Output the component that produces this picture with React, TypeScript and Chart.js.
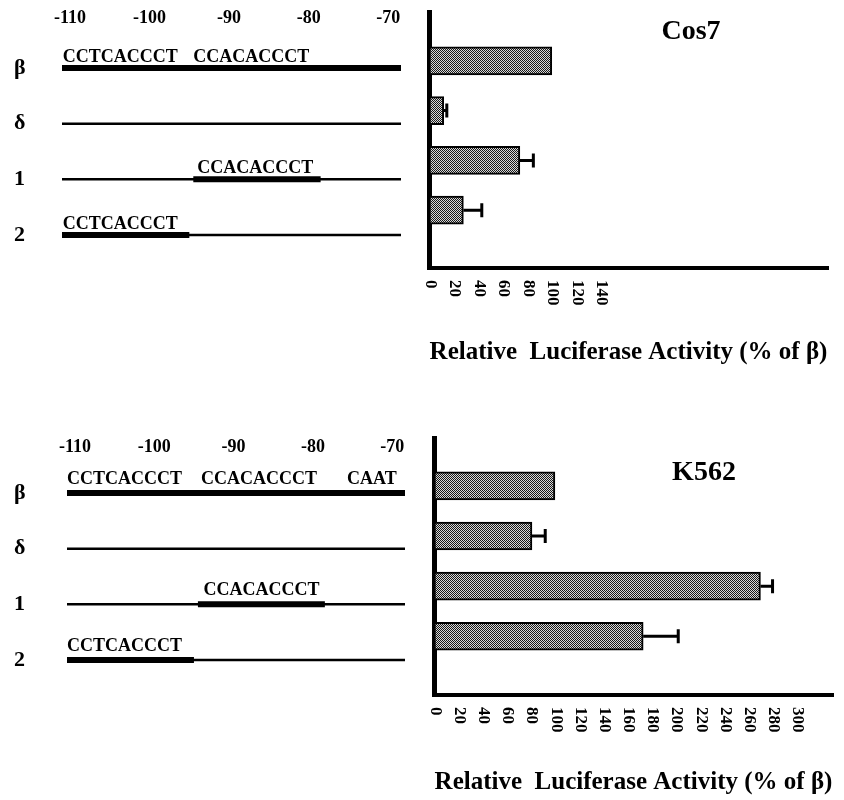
import React, { useEffect, useRef } from "react";
import { Chart, registerables } from "chart.js";

Chart.register(...registerables);

const SERIF = '"Liberation Serif", "Times New Roman", serif';

// Constructs, one row each, top to bottom
const constructs = ["β", "δ", "1", "2"];

// Promoter coordinates labelled above the maps
const coordinateTicks = [-110, -100, -90, -80, -70];
// Extent of the promoter fragment in every construct
const fragmentStart = -111;
const fragmentEnd = -68.4;

// Wild-type (thick) stretch kept in each construct; null = none
const keptStart: (number | null)[] = [-111, null, -94.5, -111];
const keptEnd: (number | null)[] = [-68.4, null, -78.5, -95];

// Sequence elements written over the maps (left end, row)
const cos7MotifNames = ["CCTCACCCT", "CCACACCCT", "CCACACCCT", "CCTCACCCT"];
const cos7MotifStarts = [-110.9, -94.5, -94, -110.9];
const cos7MotifRows = [0, 0, 2, 3];

const k562MotifNames = ["CCTCACCCT", "CCACACCCT", "CAAT", "CCACACCCT", "CCTCACCCT"];
const k562MotifStarts = [-111, -94.1, -75.7, -93.8, -111];
const k562MotifRows = [0, 0, 0, 2, 3];

// Relative luciferase activity (% of β) with error
const cos7Activity = [100, 12, 74, 28];
const cos7Error = [0, 2.5, 11, 15];
const cos7Ticks = [0, 20, 40, 60, 80, 100, 120, 140];

const k562Activity = [100, 81, 270, 173];
const k562Error = [0, 11, 10, 29];
const k562Ticks = [0, 20, 40, 60, 80, 100, 120, 140, 160, 180, 200, 220, 240, 260, 280, 300];

const activityTitle = "Relative  Luciferase Activity (% of β)";

// Coordinate labels printed above the maps
const coordLabels = {
  id: "coordLabels",
  afterDraw(chart: any, _args: any, opts: any) {
    const { ctx } = chart;
    const xs = chart.scales.x;
    ctx.save();
    ctx.fillStyle = "#000";
    ctx.font = `bold ${opts.size}px ${SERIF}`;
    ctx.textAlign = "center";
    ctx.textBaseline = "middle";
    xs.ticks.forEach((t: any) => {
      ctx.fillText(String(t.value), xs.getPixelForValue(t.value), chart.chartArea.top - opts.rise);
    });
    ctx.restore();
  },
};

// Writes the sequence element names just above their row
const motifLabels = {
  id: "motifLabels",
  afterDatasetsDraw(chart: any, _args: any, opts: any) {
    const { ctx } = chart;
    const xs = chart.scales.x;
    const ys = chart.scales.y;
    ctx.save();
    ctx.fillStyle = "#000";
    ctx.font = `bold ${opts.size}px ${SERIF}`;
    ctx.textAlign = "left";
    ctx.textBaseline = "alphabetic";
    opts.names.forEach((name: string, i: number) => {
      const x = xs.getPixelForValue(opts.starts[i]);
      const y = ys.getPixelForValue(opts.rows[i]);
      ctx.fillText(name, x, y - opts.lift);
    });
    ctx.restore();
  },
};

// One-sided error bars with an end cap
const errorBars = {
  id: "errorBars",
  afterDatasetsDraw(chart: any, _args: any, opts: any) {
    const { ctx } = chart;
    const xs = chart.scales.x;
    const ys = chart.scales.y;
    ctx.save();
    ctx.strokeStyle = "#000";
    ctx.lineWidth = 3;
    ctx.lineCap = "butt";
    opts.values.forEach((v: number, i: number) => {
      const e = opts.errors[i];
      if (!e) return;
      const x0 = xs.getPixelForValue(v);
      const x1 = xs.getPixelForValue(v + e);
      const y = ys.getPixelForValue(i);
      ctx.beginPath();
      ctx.moveTo(x0, y);
      ctx.lineTo(x1, y);
      ctx.moveTo(x1, y - 7);
      ctx.lineTo(x1, y + 7);
      ctx.stroke();
    });
    ctx.restore();
  },
};

// Activity tick labels, turned to read downwards
const downTicks = {
  id: "downTicks",
  afterDraw(chart: any, _args: any, opts: any) {
    const { ctx } = chart;
    const xs = chart.scales.x;
    ctx.save();
    ctx.fillStyle = "#000";
    ctx.font = `bold ${opts.size}px ${SERIF}`;
    ctx.textAlign = "left";
    ctx.textBaseline = "middle";
    xs.ticks.forEach((t: any) => {
      ctx.save();
      ctx.translate(xs.getPixelForValue(t.value) + 1, xs.top + opts.gap);
      ctx.rotate(Math.PI / 2);
      ctx.fillText(String(t.value), 0, 0);
      ctx.restore();
    });
    ctx.restore();
  },
};

// Cell line name inside the plot
const panelName = {
  id: "panelName",
  afterDraw(chart: any, _args: any, opts: any) {
    const { ctx } = chart;
    ctx.save();
    ctx.fillStyle = "#000";
    ctx.font = `bold ${opts.size}px ${SERIF}`;
    ctx.textAlign = "center";
    ctx.textBaseline = "middle";
    ctx.fillText(opts.text, opts.x, opts.y);
    ctx.restore();
  },
};

function stipple(): CanvasPattern | string {
  const tile = document.createElement("canvas");
  tile.width = 2;
  tile.height = 2;
  const t = tile.getContext("2d")!;
  t.fillStyle = "#d8d8d8";
  t.fillRect(0, 0, 2, 2);
  t.fillStyle = "#181818";
  t.fillRect(0, 0, 1, 1);
  t.fillRect(1, 1, 1, 1);
  return t.createPattern(tile, "repeat") ?? "#888";
}

type MapLayout = {
  padding: { top: number; left: number; right: number; bottom: number };
  axisWidth: number;
  rise: number;
  lift: number;
};

function mapConfig(names: string[], starts: number[], rows: number[], lay: MapLayout): any {
  const datasets: any[] = [];
  constructs.forEach((c, i) => {
    datasets.push({
      data: [
        { x: fragmentStart, y: c },
        { x: fragmentEnd, y: c },
      ],
      borderWidth: 2.5,
    });
    const s = keptStart[i];
    const e = keptEnd[i];
    if (s !== null && e !== null) {
      datasets.push({
        data: [
          { x: s, y: c },
          { x: e, y: c },
        ],
        borderWidth: 6,
      });
    }
  });
  return {
    type: "scatter",
    data: {
      labels: constructs,
      datasets: datasets.map((d) => ({
        ...d,
        showLine: true,
        borderColor: "#000",
        pointRadius: 0,
        clip: false,
        borderCapStyle: "butt",
      })),
    },
    options: {
      animation: false,
      responsive: false,
      events: [],
      layout: { padding: lay.padding },
      plugins: {
        legend: { display: false },
        tooltip: { enabled: false },
        motifLabels: { names, starts, rows, size: 18, lift: lay.lift },
        coordLabels: { size: 18, rise: lay.rise },
      },
      scales: {
        x: {
          type: "linear",
          position: "top",
          min: fragmentStart,
          max: fragmentEnd,
          grid: { display: false, drawTicks: false },
          border: { display: false },
          afterBuildTicks: (s: any) => {
            s.ticks = coordinateTicks.map((v) => ({ value: v }));
          },
          ticks: { display: false },
        },
        y: {
          type: "category",
          labels: constructs,
          offset: false,
          grid: { display: false, drawTicks: false },
          border: { display: false },
          afterFit: (s: any) => {
            s.width = lay.axisWidth;
          },
          ticks: {
            crossAlign: "far",
            padding: 0,
            color: "#000",
            font: { family: SERIF, size: 22, weight: "bold" },
          },
        },
      },
    },
    plugins: [motifLabels, coordLabels],
  };
}

type BarLayout = {
  padding: { top: number; left: number; right: number; bottom: number };
  max: number;
  yMin: number;
  yMax: number;
  titlePad: number;
  name: string;
  nameX: number;
  nameY: number;
};

function activityConfig(values: number[], errors: number[], ticks: number[], lay: BarLayout): any {
  return {
    type: "bar",
    data: {
      datasets: [
        {
          data: values.map((v, i) => ({ x: v, y: i })),
          backgroundColor: stipple(),
          borderColor: "#000",
          borderWidth: 2,
          borderSkipped: false,
          barThickness: 28,
        },
      ],
    },
    options: {
      animation: false,
      responsive: false,
      events: [],
      indexAxis: "y",
      layout: { padding: lay.padding },
      plugins: {
        legend: { display: false },
        tooltip: { enabled: false },
        errorBars: { values, errors },
        downTicks: { gap: 12, size: 17 },
        panelName: { text: lay.name, x: lay.nameX, y: lay.nameY, size: 28 },
      },
      scales: {
        x: {
          type: "linear",
          min: 0,
          max: lay.max,
          grid: { display: false, drawTicks: false },
          border: { display: true, color: "#000", width: 4 },
          afterBuildTicks: (s: any) => {
            s.ticks = ticks.map((v) => ({ value: v }));
          },
          ticks: { display: false },
          title: {
            display: true,
            text: activityTitle,
            color: "#000",
            font: { family: SERIF, size: 25, weight: "bold", lineHeight: 1 },
            padding: { top: lay.titlePad, bottom: 0 },
          },
        },
        y: {
          type: "linear",
          reverse: true,
          min: lay.yMin,
          max: lay.yMax,
          grid: { display: false, drawTicks: false },
          border: { display: true, color: "#000", width: 5 },
          ticks: { display: false },
        },
      },
    },
    plugins: [errorBars, downTicks, panelName],
  };
}

function ChartCanvas(props: { make: () => any; left: number; top: number; width: number; height: number }) {
  const ref = useRef<HTMLCanvasElement>(null);
  useEffect(() => {
    const chart = new Chart(ref.current!, props.make());
    return () => chart.destroy();
  }, []);
  return (
    <canvas
      ref={ref}
      width={props.width}
      height={props.height}
      style={{ position: "absolute", left: props.left, top: props.top, width: props.width, height: props.height }}
    />
  );
}

export default function App() {
  return (
    <div style={{ position: "fixed", left: 0, top: 0, width: 844, height: 800, background: "#fff", overflow: "hidden" }}>
      <ChartCanvas
        left={0}
        top={0}
        width={415}
        height={260}
        make={() =>
          mapConfig(cos7MotifNames, cos7MotifStarts, cos7MotifRows, {
            padding: { top: 68, left: 14, right: 14, bottom: 25 },
            axisWidth: 48,
            rise: 50,
            lift: 6,
          })
        }
      />
      <ChartCanvas
        left={410}
        top={0}
        width={434}
        height={365}
        make={() =>
          activityConfig(cos7Activity, cos7Error, cos7Ticks, {
            padding: { top: 12, left: 19, right: 16, bottom: 0 },
            max: 325,
            yMin: -0.723,
            yMax: 3.904,
            titlePad: 72,
            name: "Cos7",
            nameX: 281,
            nameY: 32,
          })
        }
      />
      <ChartCanvas
        left={0}
        top={420}
        width={420}
        height={260}
        make={() =>
          mapConfig(k562MotifNames, k562MotifStarts, k562MotifRows, {
            padding: { top: 73, left: 14, right: 15, bottom: 20 },
            axisWidth: 53,
            rise: 46,
            lift: 9,
          })
        }
      />
      <ChartCanvas
        left={410}
        top={420}
        width={434}
        height={375}
        make={() =>
          activityConfig(k562Activity, k562Error, k562Ticks, {
            padding: { top: 18, left: 24, right: 11, bottom: 0 },
            max: 330,
            yMin: -0.7,
            yMax: 3.916,
            titlePad: 75,
            name: "K562",
            nameX: 294,
            nameY: 53,
          })
        }
      />
    </div>
  );
}
